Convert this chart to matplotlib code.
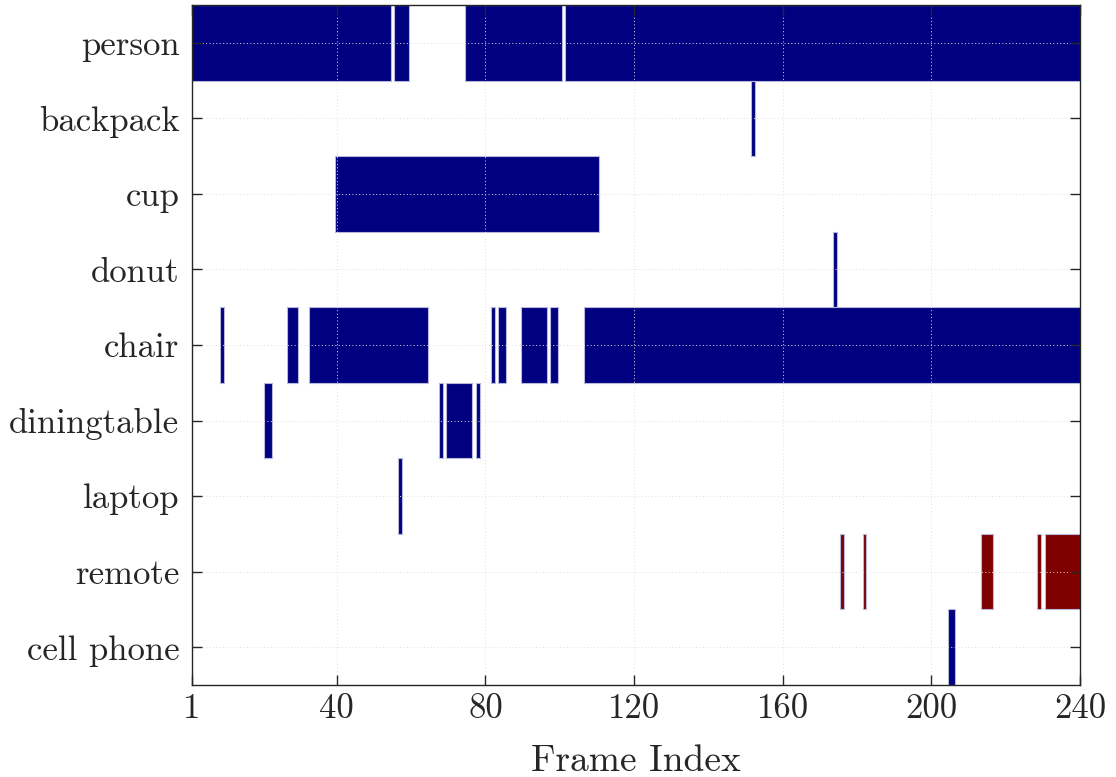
import matplotlib
matplotlib.use("Agg")
import matplotlib.pyplot as plt

# Object classes (top to bottom) and the frame runs where each is detected
classes = ["person", "backpack", "cup", "donut", "chair",
           "diningtable", "laptop", "remote", "cell phone"]

person_runs = [(1, 54), (56, 59), (75, 100), (102, 240)]
backpack_runs = [(152, 152)]
cup_runs = [(40, 110)]
donut_runs = [(174, 174)]
chair_runs = [(9, 9), (27, 29), (33, 64), (82, 82), (84, 85),
              (90, 96), (98, 99), (107, 240)]
diningtable_runs = [(21, 22), (68, 68), (70, 76), (78, 78)]
laptop_runs = [(57, 57)]
remote_runs = [(176, 176), (182, 182), (214, 216), (229, 229), (231, 240)]
cellphone_runs = [(205, 206)]

runs = [person_runs, backpack_runs, cup_runs, donut_runs, chair_runs,
        diningtable_runs, laptop_runs, remote_runs, cellphone_runs]
colors = ["#000080"] * 7 + ["#800000", "#000080"]

xticks = [1, 40, 80, 120, 160, 200, 240]

plt.rcParams["font.family"] = "cmr10"
plt.rcParams["mathtext.fontset"] = "cm"
plt.rcParams["axes.unicode_minus"] = False
plt.rcParams["axes.formatter.use_mathtext"] = True

fig = plt.figure(figsize=(11.16, 7.77), dpi=100)
ax = fig.add_axes([0.172, 0.1184, 0.7957, 0.8752])

for i, (segs, c) in enumerate(zip(runs, colors)):
    y = i + 1
    bars = [(a - 0.5, b - a + 1) for a, b in segs]
    ax.broken_barh(bars, (y - 0.5, 1.0), facecolors=c,
                   edgecolors=(0.72, 0.72, 0.86), linewidth=0.8, zorder=2)

ax.set_xlim(1, 240)
ax.set_ylim(len(classes) + 0.5, 0.5)
ax.set_xticks(xticks)
ax.set_xticklabels([str(t) for t in xticks])
ax.set_yticks(range(1, len(classes) + 1))
ax.set_yticklabels(classes)

ax.grid(True, linestyle=(0, (1, 2.5)), color=(0.87, 0.87, 0.87),
        linewidth=0.7, zorder=3)
ax.set_axisbelow(False)

axis_col = (0.15, 0.15, 0.15)
for sp in ax.spines.values():
    sp.set_color(axis_col)
    sp.set_linewidth(1.0)
    sp.set_zorder(4)

ax.tick_params(axis="both", direction="in", length=7, width=1.0,
               color=axis_col, labelcolor=axis_col, top=True, right=True,
               labelsize=25)
ax.tick_params(axis="x", pad=6)
ax.tick_params(axis="y", pad=9)

ax.set_xlabel("Frame Index", fontsize=27, color=axis_col, labelpad=14)

fig.savefig("out.png", dpi=100)
